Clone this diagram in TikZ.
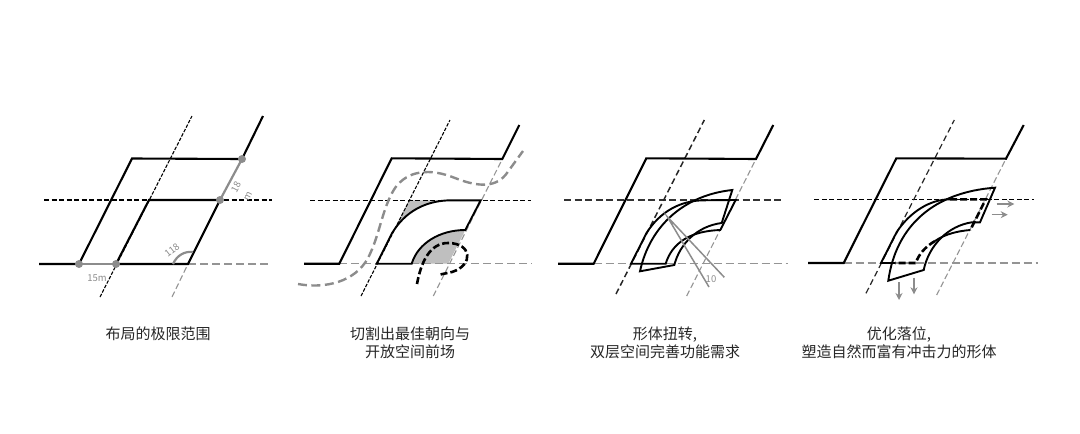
\documentclass[tikz,border=0pt]{standalone}
\usepackage{fontspec}
\setmainfont{Noto Sans CJK SC}
\usetikzlibrary{arrows.meta}
\definecolor{markgray}{gray}{0.55}
\definecolor{guidegray}{gray}{0.58}
\tikzset{
  wall/.style = {line width=2.1pt, black, line join=miter},
  cutline/.style = {line width=1.5pt, black, dash pattern=on 5pt off 2.5pt},
  slantline/.style = {line width=1.1pt, black, dash pattern=on 3.5pt off 1.5pt},
  slantbold/.style = {line width=1.5pt, black!85, dash pattern=on 6pt off 3.5pt},
  farline/.style = {line width=1.4pt, guidegray, dash pattern=on 8pt off 4pt},
  farslant/.style = {line width=1.1pt, guidegray, dash pattern=on 6pt off 3pt},
  mass/.style = {line width=1.9pt, black},
  massdash/.style = {line width=2.6pt, black, dash pattern=on 7pt off 3pt},
  routeline/.style = {line width=2.4pt, markgray, dash pattern=on 9pt off 4.5pt},
  markline/.style = {line width=2.2pt, markgray},
  pin/.style = {circle, fill=markgray, inner sep=0pt, minimum size=8pt},
  size/.style = {font=\fontsize{9.5}{10}\selectfont, text=markgray, inner sep=0pt},
  caption/.style = {font=\fontsize{15}{18}\selectfont, text=black!85, align=center, inner sep=0pt},
  myarrow/.style = {-{Stealth[length=7pt,width=7pt]}, line width=1.3pt, markgray}
}

\begin{document}
\begin{tikzpicture}[x=1pt, y=-1pt]
\useasboundingbox (0,0) rectangle (1080,434);

% ----- PANEL 1: LIMIT OF THE LAYOUT -----
\draw[cutline]   (44,200) -- (272,200);
\draw[slantline] (100,297) -- (192,116);
\draw[farline]   (188,264) -- (268,264);
\draw[farslant]  (172,297) -- (188,264);
\draw[wall] (39,264) -- (79,264) -- (132,158.5) -- (242,159) -- (263,116);
\draw[wall] (116,264) -- (149,200) -- (220,200) -- (188,264) -- cycle;
\draw[markline] (79,264) -- (116,264);
\draw[markline] (220,200) -- (242,159);
\draw[markline] (173,264) .. controls (177,255) and (185,251) .. (193,252);
\node[pin] (p1a) at (79,264) {};
\node[pin] (p1b) at (116,264) {};
\node[pin] (p1c) at (220,200) {};
\node[pin] (p1d) at (242,159) {};
\node[size] (w1) at (97,278) {15m};
\node[size, rotate=62] (h1) at (236,187) {18};
\node[size, rotate=62] (h2) at (248,196) {m};
\node[size, rotate=38] (a1) at (172,250) {118};

% ----- PANEL 2: CUT FOR ORIENTATION AND FORECOURT -----
\fill[black!25] (392.3,232.7) -- (409,200.3) -- (451.7,200.3) .. controls (425,200.3) and (405,212) .. cycle;
\fill[black!25] (411.7,263.7) .. controls (418,243) and (440,230) .. (465.3,230) -- (448.3,263.7) -- cycle;
\draw[cutline]   (310,200.3) -- (531,200.3);
\draw[slantline] (361,296) -- (450,120);
\draw[farline]   (339.3,263.7) -- (532,263.7);
\draw[farslant]  (433.3,296) -- (502.3,159);
\draw[wall] (304,263.7) -- (339.3,263.7) -- (391.7,158.3) -- (502.3,159) -- (519.3,125);
\draw[mass] (376.7,263.7) -- (392.3,232.7) .. controls (405,212) and (425,200.3) .. (451.7,200.3)
  -- (480.7,200.3) -- (465.3,230) .. controls (440,230) and (418,243) .. (411.7,263.7) -- cycle;
\draw[routeline] (298,284) .. controls (325,289) and (355,282) .. (368,258)
  .. controls (380,235) and (382,208) .. (395,188)
  .. controls (408,170) and (430,168) .. (455,178)
  .. controls (480,188) and (497,187) .. (507,173) -- (523,151);
\draw[massdash] (417,284) .. controls (421,262) and (430,243) .. (448,243)
  .. controls (472,243) and (474,265) .. (452,272) -- (438,275);

% ----- PANEL 3: TWIST OF THE FORM -----
\draw[cutline, line width=1.8pt, black!80, dash pattern=on 7pt off 3.5pt] (564,200) -- (784,200);
\draw[slantbold] (616,294) -- (704.3,120);
\draw[farline]   (593.7,263.7) -- (788,263.7);
\draw[farslant]  (686.7,296) -- (756,159);
\draw[wall] (558,263.7) -- (593.7,263.7) -- (646.3,158.3) -- (756,159) -- (773.3,125);
\draw[mass] (631,263.7) -- (646.7,232.7) .. controls (660,212) and (680,200) .. (705.7,200.3)
  -- (735.7,200) -- (720.3,230) .. controls (690,231) and (672,243) .. (665.7,263.7) -- cycle;
\draw[mass] (640,271.3) .. controls (650,225) and (685,195) .. (732.3,190)
  -- (721.7,223) .. controls (698,226) and (680,243) .. (674.3,265) -- cycle;
\draw[line width=1.5pt, markgray] (709,287) -- (667.3,216.7) -- (724.3,277.3);
\node[size] (t1) at (711,279) {10};

% ----- PANEL 4: FINAL PLACEMENT -----
\draw[cutline]   (814.3,199.3) -- (1034.3,199.3);
\draw[slantbold, line width=1.2pt] (866,293.3) -- (954.3,120);
\draw[farline]   (843.7,263) -- (1038,263);
\draw[farslant]  (936.7,295) -- (1006,158.7);
\draw[wall] (808,263) -- (843.7,263) -- (896.3,158.3) -- (1006,158.7) -- (1023.7,125);
\draw[mass] (895,263) -- (881,263) -- (896.7,232) .. controls (910,212) and (930,199.3) .. (950,199.3);
\draw[massdash] (950,199.3) -- (985.7,199.3) -- (970.3,230);
\draw[mass] (970.3,230) .. controls (958,231) and (945,234) .. (935,241);
\draw[massdash] (935,241) .. controls (925,247) and (919,254) .. (915.7,263) -- (895,263);
\draw[mass] (888.3,280.7) .. controls (896,225) and (935,192) .. (995,187.7)
  -- (980,222.3) -- (971.7,222.3) .. controls (948,226) and (929,245) .. (923.7,270) -- cycle;
\draw[myarrow] (996.7,204) -- (1014.3,204);
\draw[myarrow] (991.7,214.7) -- (1007.7,214.7);
\draw[myarrow] (899,282.3) -- (899,300);
\draw[myarrow] (914,277.7) -- (914,294.3);

% ----- CAPTIONS -----
\node[caption] (c1) at (158,334) {布局的极限范围};
\node[caption] (c2) at (410,343) {切割出最佳朝向与\\开放空间前场};
\node[caption] (c3) at (665,343) {形体扭转,\\双层空间完善功能需求};
\node[caption] (c4) at (899,343) {优化落位,\\塑造自然而富有冲击力的形体};

\end{tikzpicture}
\end{document}
